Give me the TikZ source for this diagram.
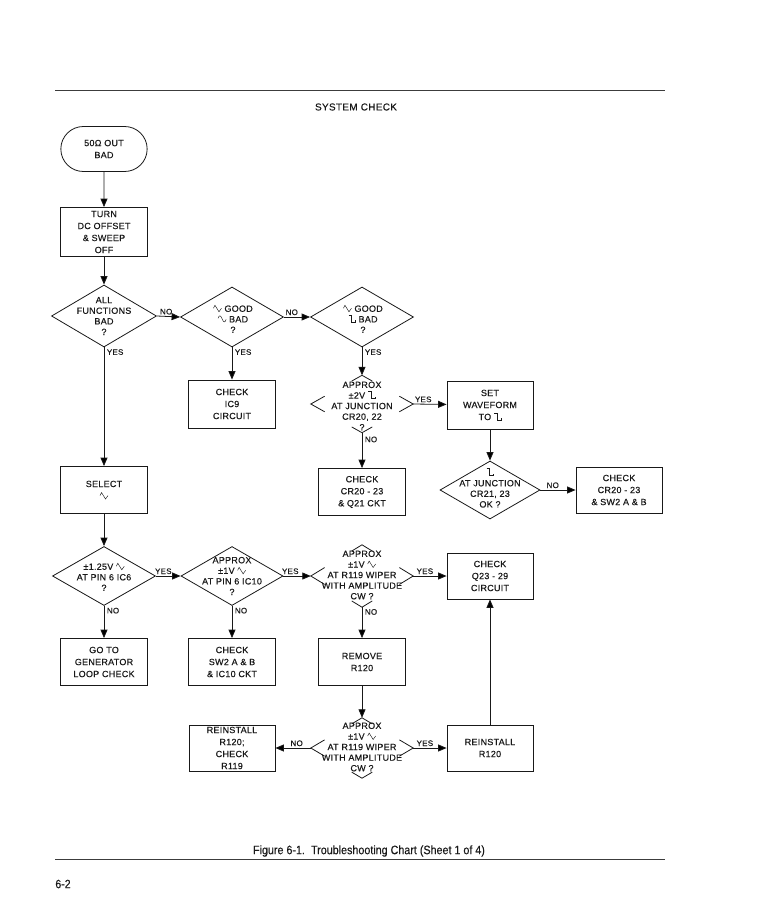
\documentclass[tikz,border=0pt]{standalone}
\usepackage{fontspec}
\setmainfont{Liberation Sans}
\newfontfamily\chartface{Liberation Sans}[LetterSpace=3,FakeBold=0.4]
\newfontfamily\capface{Liberation Sans}[FakeStretch=0.88,FakeBold=0.3]
\usepackage{tikz}
\usetikzlibrary{arrows.meta,positioning,shapes.geometric,shapes.misc,calc}
\usepackage{xcolor}
\definecolor{cInk}{RGB}{25,25,25}
\definecolor{cRule}{RGB}{60,60,60}

\newcommand{\chartfont}{\chartface\fontsize{9}{12}\selectfont}
\newcommand{\diafont}{\chartface\fontsize{9}{10.6}\selectfont}
% small waveform glyphs
\newcommand{\wtri}{\tikz[x=1pt,y=1pt,baseline=0pt,line width=0.45pt]\draw (0,3.5) -- (1.5,6.5) -- (5.5,0) -- (8,3.5);}
\newcommand{\wsine}{\tikz[x=1pt,y=1pt,baseline=0pt,line width=0.45pt]\draw (0,4) .. controls (1,7.5) and (2.5,7.5) .. (4,3.5) .. controls (5.5,-0.5) and (7,-0.5) .. (8,3);}
\newcommand{\wsq}{\tikz[x=1pt,y=1pt,baseline=0pt,line width=0.45pt]\draw (0,7) -- (3,7) -- (3,0) -- (7,0) -- (7,2);}
% only the tips of a decision diamond
\newcommand{\corners}[1]{%
  \draw[chart] ($(#1.west)!0.27!(#1.north)$) -- (#1.west) -- ($(#1.west)!0.27!(#1.south)$);
  \draw[chart] ($(#1.east)!0.27!(#1.north)$) -- (#1.east) -- ($(#1.east)!0.27!(#1.south)$);
  \draw[chart] ($(#1.north)!0.2!(#1.west)$) -- (#1.north) -- ($(#1.north)!0.2!(#1.east)$);
  \draw[chart] ($(#1.south)!0.2!(#1.west)$) -- (#1.south) -- ($(#1.south)!0.2!(#1.east)$);}

\tikzset{
  chart/.style={line width=0.8pt, draw=cInk},
  stepbox/.style={chart, rectangle, minimum width=87pt, minimum height=47pt, align=center, font=\chartfont, text=cInk, inner sep=0pt},
  terminal/.style={chart, rounded rectangle, minimum width=93pt, minimum height=45pt, align=center, font=\chartfont, text=cInk},
  decision/.style={chart, diamond, minimum width=103pt, minimum height=60pt, inner sep=0pt},
  opendecision/.style={diamond, minimum width=102pt, minimum height=60pt, inner sep=0pt},
  dtext/.style={align=center, font=\diafont, text=cInk, inner sep=0pt},
  lbl/.style={font=\chartface\fontsize{8}{9}\selectfont, text=cInk, inner sep=1.5pt},
  flow/.style={chart, -{Triangle[length=8.5pt,width=7pt]}},
}

\begin{document}
\begin{tikzpicture}[x=1pt, y=-1pt]
  \useasboundingbox (0,0) rectangle (758,918);
  % page frame
  \draw[line width=1pt, cRule] (55,90) -- (665,90);
  \draw[line width=1pt, cRule] (55,859) -- (665,859);
  \node[font=\chartface\fontsize{10}{12}\selectfont, text=cInk] (title) at (356,107) {SYSTEM CHECK};
  \node[font=\capface\fontsize{12.2}{14}\selectfont, text=cInk] (caption) at (369,851) {Figure 6-1.\enspace Troubleshooting Chart (Sheet 1 of 4)};
  \node[font=\capface\fontsize{12}{14}\selectfont, text=cInk] (pageno) at (63,884) {6-2};

  % first column
  \node[terminal] (start) at (104,149) {50Ω OUT\\BAD};
  \node[stepbox, minimum height=49pt] (turnoff) at (104,232) {TURN\\DC OFFSET\\\& SWEEP\\OFF};
  \node[decision, minimum width=105pt, minimum height=62pt] (allbad) at (104,316) {};
  \node[dtext] (allbad-t) at (allbad) {ALL\\FUNCTIONS\\BAD\\?};

  % first row of decisions
  \node[decision] (goodbad) at (232,317) {};
  \node[dtext] (goodbad-t) at (233,319) {\wtri\ GOOD\\\wsine\ BAD\\?};
  \node[decision] (sqbad) at (362,317) {};
  \node[dtext] (sqbad-t) at (363,319) {\wtri\ GOOD\\\wsq\ BAD\\?};
  \node[stepbox, minimum height=48pt] (ic9) at (232,404) {CHECK\\IC9\\CIRCUIT};

  % +-2V check
  \node[opendecision, minimum height=57pt] (twovolt) at (362,404) {};
  \corners{twovolt}
  \node[dtext] (twovolt-t) at (362,406) {APPROX\\±2V \wsq\\AT JUNCTION\\CR20, 22\\?};
  \node[stepbox, minimum width=86pt, minimum height=48pt] (setwave) at (490,405) {SET\\WAVEFORM\\TO \wsq};
  \node[stepbox] (q21) at (362,492) {CHECK\\CR20 - 23\\\& Q21 CKT};
  \node[decision, minimum width=100pt, minimum height=58pt] (junction) at (490,490) {};
  \node[dtext] (junction-t) at (490,488) {\wsq\\AT JUNCTION\\CR21, 23\\OK ?};
  \node[stepbox, minimum width=86pt, minimum height=46pt] (sw2ab) at (619,490) {CHECK\\CR20 - 23\\\& SW2 A \& B};

  % triangle path
  \node[stepbox] (select) at (104,490) {SELECT\\\wtri};
  \node[decision, minimum height=59pt] (ic6) at (104,576) {};
  \node[dtext] (ic6-t) at (104,577) {±1.25V \wtri\\AT PIN 6 IC6\\?};
  \node[decision, minimum width=102pt, minimum height=59pt] (ic10) at (232,576) {};
  \node[dtext] (ic10-t) at (232,576) {APPROX\\±1V \wtri\\AT PIN 6 IC10\\?};
  \node[opendecision, minimum height=62pt] (wiper) at (362,576) {};
  \corners{wiper}
  \node[dtext] (wiper-t) at (362,575) {APPROX\\±1V \wtri\\AT R119 WIPER\\WITH AMPLITUDE\\CW ?};
  \node[stepbox, minimum width=86pt, minimum height=46pt] (q23) at (490,576) {CHECK\\Q23 - 29\\CIRCUIT};

  \node[stepbox] (genloop) at (104,662) {GO TO\\GENERATOR\\LOOP CHECK};
  \node[stepbox] (sw2ic10) at (232,662) {CHECK\\SW2 A \& B\\\& IC10 CKT};
  \node[stepbox] (remove) at (362,662) {REMOVE\\R120};

  % second wiper check
  \node[opendecision] (rewiper) at (362,748) {};
  \corners{rewiper}
  \node[dtext] (rewiper-t) at (362,747) {APPROX\\±1V \wtri\\AT R119 WIPER\\WITH AMPLITUDE\\CW ?};
  \node[stepbox, minimum width=86pt, minimum height=46pt] (recheck) at (232,748) {REINSTALL\\R120;\\CHECK\\R119};
  \node[stepbox, minimum width=86pt, minimum height=46pt] (reinstall) at (490,748) {REINSTALL\\R120};

  % connectors
  \draw[flow] (start) -- (turnoff);
  \draw[flow] (turnoff) -- (allbad.north);
  \draw[flow] (allbad.east) -- node[lbl, above, pos=0.4] {NO} (goodbad.west);
  \draw[flow] (goodbad.east) -- node[lbl, above, pos=0.3] {NO} (sqbad.west);
  \draw[flow] (allbad.south) -- node[lbl, anchor=north west, pos=0, xshift=1pt] {YES} (select);
  \draw[flow] (goodbad.south) -- node[lbl, anchor=north west, pos=0, xshift=1pt] {YES} (ic9);
  \draw[flow] (sqbad.south) -- node[lbl, anchor=north west, pos=0, xshift=1pt] {YES} (twovolt.north);
  \draw[flow] (twovolt.east) -- node[lbl, above, pos=0.3] {YES} (setwave);
  \draw[flow] (twovolt.south) -- node[lbl, anchor=north west, pos=0, xshift=1pt, yshift=-2pt] {NO} (q21);
  \draw[flow] (setwave) -- (junction.north);
  \draw[flow] (junction.east) -- node[lbl, above, pos=0.35] {NO} (sw2ab);
  \draw[flow] (select) -- (ic6.north);
  \draw[flow] (ic6.east) -- node[lbl, above, pos=0.3] {YES} (ic10.west);
  \draw[flow] (ic10.east) -- node[lbl, above, pos=0.25] {YES} (wiper.west);
  \draw[flow] (wiper.east) -- node[lbl, above, pos=0.35] {YES} (q23);
  \draw[flow] (ic6.south) -- node[lbl, anchor=north west, pos=0, xshift=1pt] {NO} (genloop);
  \draw[flow] (ic10.south) -- node[lbl, anchor=north west, pos=0, xshift=1pt] {NO} (sw2ic10);
  \draw[flow] (wiper.south) -- node[lbl, anchor=north west, pos=0, xshift=1pt] {NO} (remove);
  \draw[flow] (remove) -- (rewiper.north);
  \draw[flow] (rewiper.west) -- node[lbl, above, pos=0.4] {NO} (recheck);
  \draw[flow] (rewiper.east) -- node[lbl, above, pos=0.35] {YES} (reinstall);
  \draw[flow] (reinstall) -- (q23);
\end{tikzpicture}
\end{document}
